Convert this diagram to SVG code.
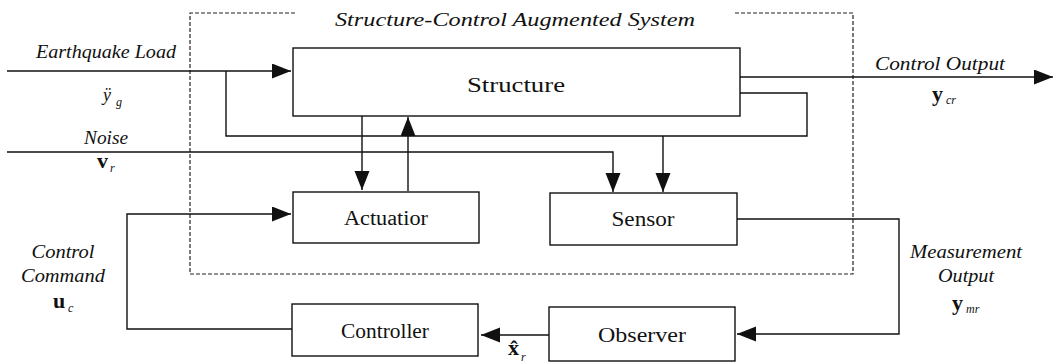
<svg xmlns="http://www.w3.org/2000/svg" width="1056" height="364" viewBox="0 0 1056 364" font-family="'Liberation Serif', 'DejaVu Serif', serif">
<style>
.bx{fill:#fff;stroke:#111;stroke-width:1.4}
.ln{fill:none;stroke:#111;stroke-width:1.4}
.dash{fill:none;stroke:#222;stroke-width:1.2;stroke-dasharray:4,2}
text{font-family:'Liberation Serif','DejaVu Serif',serif;fill:#111}
.lbl{font-size:20px;text-anchor:middle}
.it{font-style:italic;font-size:18px}
.b{font-weight:bold;font-size:22px}
.sub{font-style:italic;font-size:12px}
</style>
<defs>
<marker id="ah" markerUnits="userSpaceOnUse" markerWidth="20" markerHeight="16" refX="19" refY="7.5" orient="auto">
<path d="M0,0 L19,7.5 L0,15 Z" fill="#111"/>
</marker>
</defs>
<g id="boundary">
<path class="dash" d="M295,13 H190 V274 H853 V13 H735"/>
<text class="it" x="515" y="26" text-anchor="middle" textLength="360" lengthAdjust="spacingAndGlyphs">Structure-Control Augmented System</text>
</g>
<g id="connectors">
<path class="ln" d="M7,71 H291" marker-end="url(#ah)"/>
<path class="ln" d="M226,71 V136 H807 V93 H740"/>
<path class="ln" d="M362,116 V190" marker-end="url(#ah)"/>
<path class="ln" d="M408,191 V117" marker-end="url(#ah)"/>
<path class="ln" d="M7,152 H613 V192" marker-end="url(#ah)"/>
<path class="ln" d="M663,136 V192" marker-end="url(#ah)"/>
<path class="ln" d="M740,77 H1053" marker-end="url(#ah)"/>
<path class="ln" d="M737,219 H899 V334 H737" marker-end="url(#ah)"/>
<path class="ln" d="M549,335 H481" marker-end="url(#ah)"/>
<path class="ln" d="M292,329 H127 V214 H291" marker-end="url(#ah)"/>
</g>
<g id="structure">
<rect class="bx" x="293" y="48" width="447" height="68"/>
<text class="lbl" x="516" y="92" textLength="98" lengthAdjust="spacingAndGlyphs">Structure</text>
</g>
<g id="actuator">
<rect class="bx" x="293" y="192" width="186" height="51"/>
<text class="lbl" x="386" y="225" textLength="84" lengthAdjust="spacingAndGlyphs">Actuatior</text>
</g>
<g id="sensor">
<rect class="bx" x="550" y="193" width="187" height="52"/>
<text class="lbl" x="643" y="226" textLength="63" lengthAdjust="spacingAndGlyphs">Sensor</text>
</g>
<g id="controller">
<rect class="bx" x="292" y="304" width="186" height="52"/>
<text class="lbl" x="385" y="338" textLength="88" lengthAdjust="spacingAndGlyphs">Controller</text>
</g>
<g id="observer">
<rect class="bx" x="549" y="307" width="186" height="54"/>
<text class="lbl" x="642" y="342" textLength="88" lengthAdjust="spacingAndGlyphs">Observer</text>
</g>
<g id="labels">
<text class="it" x="36" y="58" textLength="140" lengthAdjust="spacingAndGlyphs">Earthquake Load</text>
<text class="it" x="103" y="101" font-size="21">ÿ</text>
<text class="sub" x="116" y="106">g</text>
<text class="it" x="84" y="144" textLength="44" lengthAdjust="spacingAndGlyphs">Noise</text>
<text class="b" x="97" y="168">v</text>
<text class="sub" x="110" y="172">r</text>
<text class="it" x="875" y="70" textLength="130" lengthAdjust="spacingAndGlyphs">Control Output</text>
<text class="b" x="932" y="101">y</text>
<text class="sub" x="946" y="104">cr</text>
<text class="it" x="63" y="258" text-anchor="middle" textLength="63" lengthAdjust="spacingAndGlyphs">Control</text>
<text class="it" x="63" y="282" text-anchor="middle" textLength="84" lengthAdjust="spacingAndGlyphs">Command</text>
<text class="b" x="53" y="308">u</text>
<text class="sub" x="68" y="312">c</text>
<text class="it" x="966" y="258" text-anchor="middle" textLength="112" lengthAdjust="spacingAndGlyphs">Measurement</text>
<text class="it" x="966" y="282" text-anchor="middle" textLength="56" lengthAdjust="spacingAndGlyphs">Output</text>
<text class="b" x="952" y="310">y</text>
<text class="sub" x="966" y="313">mr</text>
<text class="b" x="508" y="355">x̂</text>
<text class="sub" x="521" y="361" font-size="9">r</text>
</g>
</svg>
